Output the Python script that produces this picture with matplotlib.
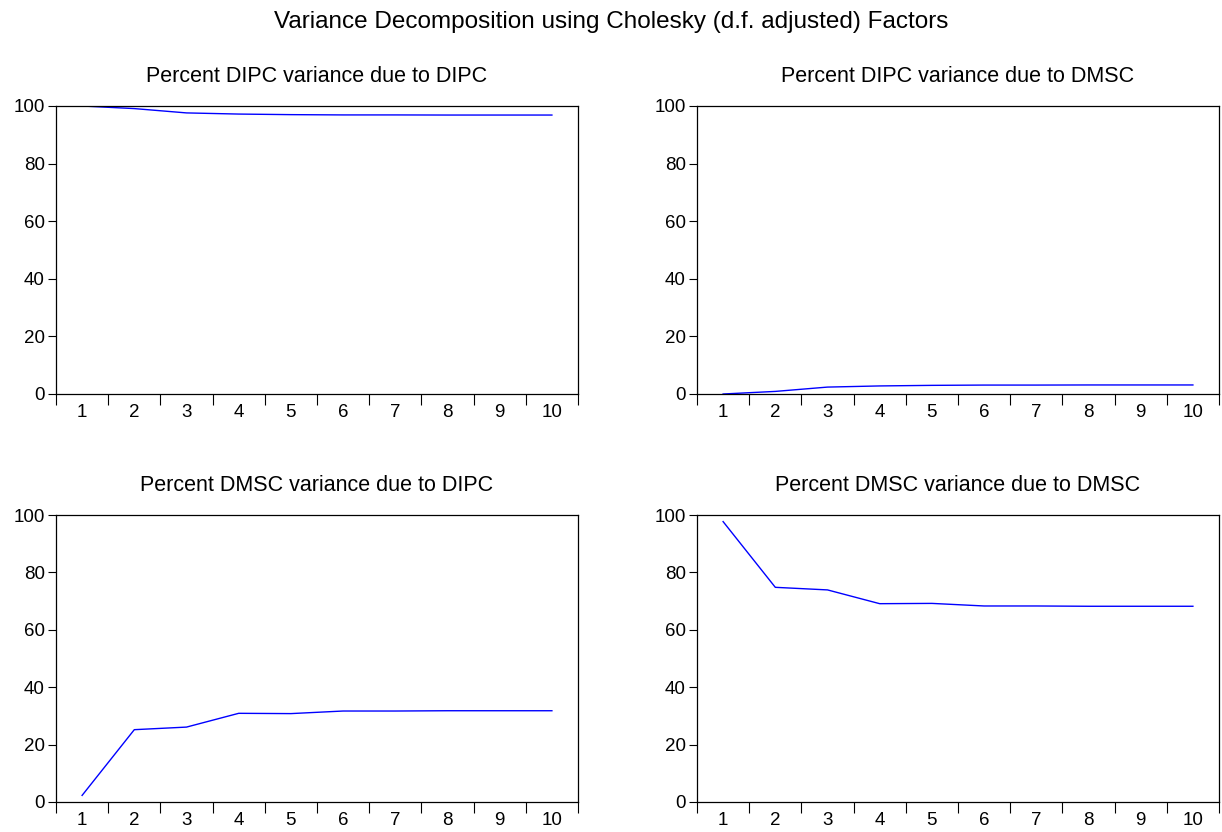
import numpy as np
import matplotlib
matplotlib.use('Agg')
import matplotlib.pyplot as plt
from matplotlib.ticker import FixedLocator, NullFormatter

plt.rcParams['font.family'] = ['Liberation Sans', 'DejaVu Sans']

periods = np.arange(1, 11)

# percent of forecast error variance, Cholesky ordering DIPC, DMSC
dipc_due_dipc = [100.0, 99.1, 97.6, 97.2, 97.0, 96.9, 96.9, 96.86, 96.86, 96.86]
dipc_due_dmsc = [0.0, 0.9, 2.4, 2.8, 3.0, 3.1, 3.1, 3.14, 3.14, 3.14]
dmsc_due_dipc = [2.3, 25.2, 26.1, 30.9, 30.8, 31.7, 31.7, 31.8, 31.8, 31.8]
dmsc_due_dmsc = [97.7, 74.8, 73.9, 69.1, 69.2, 68.3, 68.3, 68.2, 68.2, 68.2]

panel_titles = ['Percent DIPC variance due to DIPC',
                'Percent DIPC variance due to DMSC',
                'Percent DMSC variance due to DIPC',
                'Percent DMSC variance due to DMSC']
series = [dipc_due_dipc, dipc_due_dmsc, dmsc_due_dipc, dmsc_due_dmsc]

W, H = 1222, 832
fig = plt.figure(figsize=(W / 100, H / 100), dpi=100)

# axes boxes in pixels: left, top, right, bottom
boxes = [(56, 106, 578, 394), (697, 106, 1219, 394),
         (56, 515, 578, 802), (697, 515, 1219, 802)]

for (l, t, r, b), title, vals in zip(boxes, panel_titles, series):
    ax = fig.add_axes([l / W, 1 - b / H, (r - l) / W, (b - t) / H])
    ax.plot(periods, vals, color='#0000ff', lw=1.0)
    ax.set_xlim(0.5, 10.5)
    ax.set_ylim(0, 100)
    ax.set_yticks([0, 20, 40, 60, 80, 100])
    ax.set_xticks(periods)
    ax.xaxis.set_minor_locator(FixedLocator(np.arange(0.5, 11, 1.0)))
    ax.xaxis.set_minor_formatter(NullFormatter())
    ax.tick_params(axis='x', which='major', length=0, pad=7, labelsize=13.5)
    ax.tick_params(axis='x', which='minor', length=8, width=0.8, direction='out')
    ax.tick_params(axis='y', length=6, width=0.8, direction='out', pad=2, labelsize=13.5)
    for s in ax.spines.values():
        s.set_linewidth(0.9)
    ax.set_title(title, fontsize=15.5, pad=17)

fig.suptitle('Variance Decomposition using Cholesky (d.f. adjusted) Factors',
             fontsize=17.5, y=1 - 22 / H, va='center')

fig.savefig('out.png', dpi=100, facecolor='white')
